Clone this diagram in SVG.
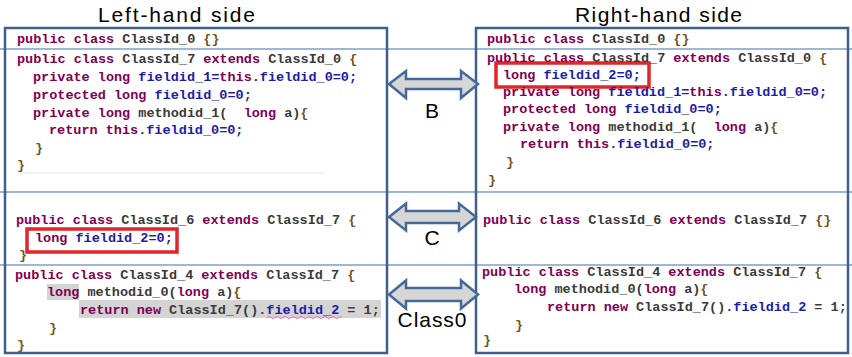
<svg xmlns="http://www.w3.org/2000/svg" width="852" height="357" viewBox="0 0 852 357">
  <style>
    .title { font-family: "Liberation Sans", "DejaVu Sans", sans-serif; font-size: 21px; fill: #000; }
    .lbl { font-family: "Liberation Sans", "DejaVu Sans", sans-serif; font-size: 21px; fill: #000; text-anchor: middle; }
    .code { font-family: "Liberation Mono", "DejaVu Sans Mono", monospace; font-size: 13.5px; font-weight: bold; fill: #3a3a3a; white-space: pre; }
    .kw { fill: #7f0055; }
    .fd { fill: #1c1ca8; }
    .br { fill: #6e5422; }
    .box { fill: none; stroke: #3f5f8c; stroke-width: 2.5; }
    .sep { stroke: #7f9fca; stroke-width: 1.3; }
    .arrow { fill: #d6d6d6; stroke: #45699a; stroke-width: 2.5; stroke-linejoin: miter; }
    .mark { fill: none; stroke: #e0262a; stroke-width: 3.5; }
    .hl { fill: #d4d4d4; }
  </style>

  <!-- headings -->
  <text class="title" x="98" y="22" textLength="157">Left-hand side</text>
  <text class="title" x="575" y="22" textLength="167">Right-hand side</text>

  <!-- panel separators running across the full width -->
  <g id="separators">
    <line class="sep" x1="0" y1="49" x2="852" y2="49"/>
    <line class="sep" x1="0" y1="192" x2="852" y2="192"/>
    <line class="sep" x1="0" y1="265" x2="852" y2="265"/>
    <line x1="20" y1="173" x2="325" y2="173" stroke="#dfe5f0" stroke-width="1"/>
  </g>

  <!-- left-hand program -->
  <g id="left">
    <rect class="box" x="5" y="28" width="382" height="325"/>
    <rect class="hl" x="47" y="284" width="32" height="16"/>
    <rect class="hl" x="79" y="300" width="302" height="18"/>
    <rect class="mark" x="27" y="229" width="150" height="23"/>
    <text class="code" x="17" y="43"><tspan class="kw">public class</tspan> ClassId_0 <tspan class="br">{}</tspan></text>
    <text class="code" x="17" y="63"><tspan class="kw">public class</tspan> ClassId_7 <tspan class="kw">extends</tspan> ClassId_0 <tspan class="br">{</tspan></text>
    <text class="code" x="33" y="81"><tspan class="kw">private long</tspan> <tspan class="fd">fieldid_1=</tspan><tspan class="kw">this</tspan><tspan class="fd">.fieldid_0=0;</tspan></text>
    <text class="code" x="33" y="99"><tspan class="kw">protected long</tspan> <tspan class="fd">fieldid_0=0;</tspan></text>
    <text class="code" x="33" y="117"><tspan class="kw">private long</tspan> methodid_1(  <tspan class="kw">long</tspan> a)<tspan class="br">{</tspan></text>
    <text class="code" x="49" y="134"><tspan class="kw">return this</tspan><tspan class="fd">.fieldid_0=0;</tspan></text>
    <text class="code br" x="35" y="152">}</text>
    <text class="code br" x="17" y="169">}</text>

    <text class="code" x="16" y="224"><tspan class="kw">public class</tspan> ClassId_6 <tspan class="kw">extends</tspan> ClassId_7 <tspan class="br">{</tspan></text>
    <text class="code" x="35" y="242"><tspan class="kw">long</tspan> <tspan class="fd">fieldid_2=0;</tspan></text>
    <text class="code br" x="19" y="259">}</text>

    <text class="code" x="15" y="279"><tspan class="kw">public class</tspan> ClassId_4 <tspan class="kw">extends</tspan> ClassId_7 <tspan class="br">{</tspan></text>
    <text class="code" x="47" y="296"><tspan class="kw">long</tspan> methodid_0(<tspan class="kw">long</tspan> a)<tspan class="br">{</tspan></text>
    <text class="code" x="80" y="314"><tspan class="kw">return new</tspan> ClassId_7().<tspan class="fd">fieldid_2</tspan> = 1;</text>
    <path d="M267 317.5 q2 -2 4 0 t4 0 t4 0 t4 0 t4 0 t4 0 t4 0 t4 0 t4 0 t4 0 t4 0 t4 0 t4 0 t4 0 t4 0 t4 0 t4 0 t4 0 t3 0" fill="none" stroke="#f06fa0" stroke-width="1"/>
    <text class="code br" x="49" y="332">}</text>
    <text class="code br" x="17" y="349">}</text>
  </g>

  <!-- right-hand program -->
  <g id="right">
    <rect class="box" x="476" y="28" width="372" height="325"/>
    <rect class="mark" x="496" y="63" width="153" height="24"/>
    <text class="code" x="487" y="43"><tspan class="kw">public class</tspan> ClassId_0 <tspan class="br">{}</tspan></text>
    <text class="code" x="487" y="62"><tspan class="kw">public class</tspan> ClassId_7 <tspan class="kw">extends</tspan> ClassId_0 <tspan class="br">{</tspan></text>
    <text class="code" x="503" y="79"><tspan class="kw">long</tspan> <tspan class="fd">fieldid_2=0;</tspan></text>
    <text class="code" x="503" y="96"><tspan class="kw">private long</tspan> <tspan class="fd">fieldid_1=</tspan><tspan class="kw">this</tspan><tspan class="fd">.fieldid_0=0;</tspan></text>
    <text class="code" x="503" y="113"><tspan class="kw">protected long</tspan> <tspan class="fd">fieldid_0=0;</tspan></text>
    <text class="code" x="503" y="131"><tspan class="kw">private long</tspan> methodid_1(  <tspan class="kw">long</tspan> a)<tspan class="br">{</tspan></text>
    <text class="code" x="520" y="148"><tspan class="kw">return this</tspan><tspan class="fd">.fieldid_0=0;</tspan></text>
    <text class="code br" x="506" y="166">}</text>
    <text class="code br" x="488" y="184">}</text>

    <text class="code" x="483" y="224"><tspan class="kw">public class</tspan> ClassId_6 <tspan class="kw">extends</tspan> ClassId_7 <tspan class="br">{}</tspan></text>

    <text class="code" x="482" y="276"><tspan class="kw">public class</tspan> ClassId_4 <tspan class="kw">extends</tspan> ClassId_7 <tspan class="br">{</tspan></text>
    <text class="code" x="514" y="293"><tspan class="kw">long</tspan> methodid_0(<tspan class="kw">long</tspan> a)<tspan class="br">{</tspan></text>
    <text class="code" x="547" y="311"><tspan class="kw">return new</tspan> ClassId_7().<tspan class="fd">fieldid_2</tspan> = 1;</text>
    <text class="code br" x="515" y="329">}</text>
    <text class="code br" x="483" y="344">}</text>
  </g>

  <!-- double-headed correspondence arrows -->
  <g id="connectors">
    <path class="arrow" d="M389 84 L406 71 L406 79 L461 79 L461 71 L478 84 L461 98 L461 89 L406 89 L406 98 Z"/>
    <path class="arrow" d="M389 217 L406 203.5 L406 211 L459 211 L459 203.5 L476 217 L459 230.5 L459 223 L406 223 L406 230.5 Z"/>
    <path class="arrow" d="M389 294.5 L406 280.5 L406 288 L461 288 L461 280.5 L478 294.5 L461 308.5 L461 301 L406 301 L406 308.5 Z"/>
  </g>

  <g id="labels">
    <text class="lbl" x="432" y="118">B</text>
    <text class="lbl" x="432" y="245">C</text>
    <text class="lbl" x="432" y="327" textLength="69">Class0</text>
  </g>
</svg>
